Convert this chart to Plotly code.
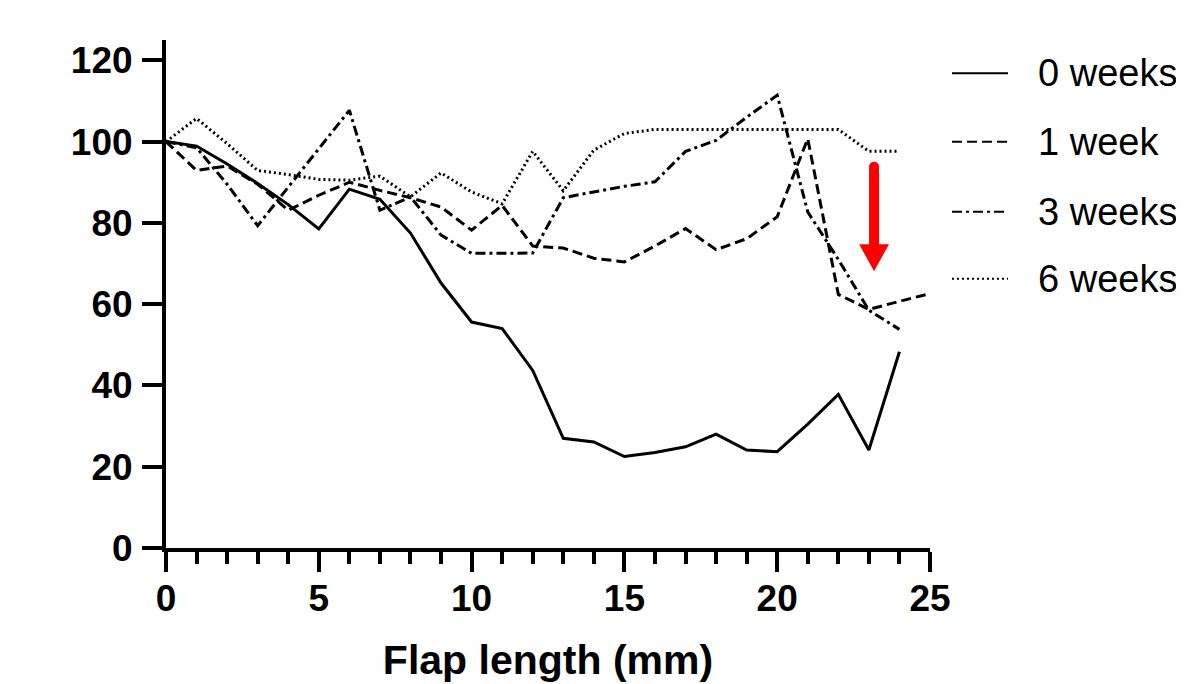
import plotly.graph_objects as go

# ---- data ----
x_24 = list(range(0, 25))
x_25 = list(range(0, 26))
series_names = ["0 weeks", "1 week", "3 weeks", "6 weeks"]
weeks0 = [100, 98.9, 94.5, 89.7, 84.5, 78.5, 88.3, 85.8, 77.5, 65.2, 55.6, 54.0, 43.7,
          27.0, 26.1, 22.5, 23.5, 24.9, 28.0, 24.1, 23.7, 30.5, 37.8, 24.1, 48.3]
weeks1 = [100, 92.9, 94.0, 89.5, 83.1, 86.8, 90.0, 88.0, 86.2, 83.9, 78.2, 84.3, 74.3,
          73.8, 71.3, 70.4, 74.3, 78.6, 73.4, 76.1, 81.5, 100.7, 62.4, 58.7, 60.7, 62.6]
weeks3 = [100, 98.5, 89.5, 79.3, 88.8, 98.3, 107.7, 83.1, 86.4, 77.0, 72.5, 72.5, 72.6,
          86.2, 87.6, 89.0, 90.1, 97.6, 100.3, 106.0, 111.4, 82.7, 71.0, 58.5, 53.8]
weeks6 = [100, 105.7, 99.5, 92.9, 91.9, 90.7, 90.5, 91.5, 86.4, 92.3, 87.6, 84.7, 97.6,
          87.9, 97.9, 102.0, 103.0, 103.0, 103.0, 103.0, 103.0, 103.0, 103.0, 97.6, 97.6]
x_tick_vals = [0, 5, 10, 15, 20, 25]
y_tick_vals = [0, 20, 40, 60, 80, 100, 120]

# ---- style ----
dashes = ["solid", "10px,5px", "10px,4px,3px,4px", "2px,3px"]
LW = 3
FONT = "Liberation Sans, Arial, sans-serif"

fig = go.Figure()
xs = [x_24, x_25, x_24, x_24]
ys = [weeks0, weeks1, weeks3, weeks6]
for name, xv, yv, d in zip(series_names, xs, ys, dashes):
    fig.add_trace(go.Scatter(x=xv, y=yv, mode="lines", name=name,
                             line=dict(color="black", width=LW, dash=d),
                             showlegend=False))

# page offset (body margin) and figure geometry
OFF = 8
W, H = 1184 - OFF, 684 - OFF
L, R, T, B = 166 - OFF, 254, 39.6 - OFF, 136
pw, ph = W - L - R, H - T - B
def px2paper_x(px):  # px in page pixels
    return (px - OFF - L) / pw
def px2paper_y(py):
    return (H - B - (py - OFF)) / ph

legend_rows_px = [73, 141.5, 211.5, 278.5]
shapes = []
annotations = []
for name, d, ry in zip(series_names, dashes, legend_rows_px):
    shapes.append(dict(type="line", xref="paper", yref="paper",
                       x0=px2paper_x(952), x1=px2paper_x(1008),
                       y0=px2paper_y(ry), y1=px2paper_y(ry),
                       line=dict(color="black", width=2, dash=d)))
    annotations.append(dict(xref="paper", yref="paper", x=px2paper_x(1036),
                            y=px2paper_y(ry), text=name, showarrow=False,
                            xanchor="left", yanchor="middle",
                            font=dict(family=FONT, size=38, color="black")))

# ---- red arrow ----
ax_c, ax_top, ax_base, ax_tip = 23.17, 93.8, 74.75, 68.1
hw_shaft, hw_head, ry_cap = 0.1636, 0.49, 1.64
xl, xr = ax_c - hw_shaft, ax_c + hw_shaft
arrow_path = (f"M{xl},{ax_base} L{xl},{ax_top} C{xl},{ax_top + ry_cap} {xr},{ax_top + ry_cap} {xr},{ax_top} "
              f"L{xr},{ax_base} L{ax_c + hw_head},{ax_base} L{ax_c},{ax_tip} L{ax_c - hw_head},{ax_base} Z")
shapes.append(dict(type="path", xref="x", yref="y", path=arrow_path,
                   fillcolor="#FF0000", line=dict(width=0)))

fig.update_layout(
    width=W, height=H,
    margin=dict(l=L, r=R, t=T, b=B, pad=0, autoexpand=False),
    paper_bgcolor="white", plot_bgcolor="white",
    font=dict(family=FONT, color="black"),
    shapes=shapes, annotations=annotations,
)
fig.update_xaxes(range=[0, 25], tickvals=x_tick_vals, ticks="outside", ticklen=20, tickwidth=4,
                 tickcolor="black", showline=True, linewidth=4, linecolor="black",
                 showgrid=False, zeroline=False, automargin=False,
                 tickfont=dict(family=FONT, size=37, color="black", weight="bold"),
                 ticklabelstandoff=-5,
                 minor=dict(dtick=1, ticks="outside", ticklen=12, tickwidth=4, tickcolor="black", showgrid=False),
                 title=dict(text="<b>Flap length (mm)</b>", standoff=28,
                            font=dict(family=FONT, size=41, color="black")))
fig.update_yaxes(range=[0, 125], tickvals=y_tick_vals, ticks="outside", ticklen=20, tickwidth=4,
                 tickcolor="black", showline=True, linewidth=4, linecolor="black",
                 showgrid=False, zeroline=False, automargin=False,
                 tickfont=dict(family=FONT, size=37, color="black", weight="bold"),
                 ticklabelstandoff=2)

fig.write_html("out.html")
